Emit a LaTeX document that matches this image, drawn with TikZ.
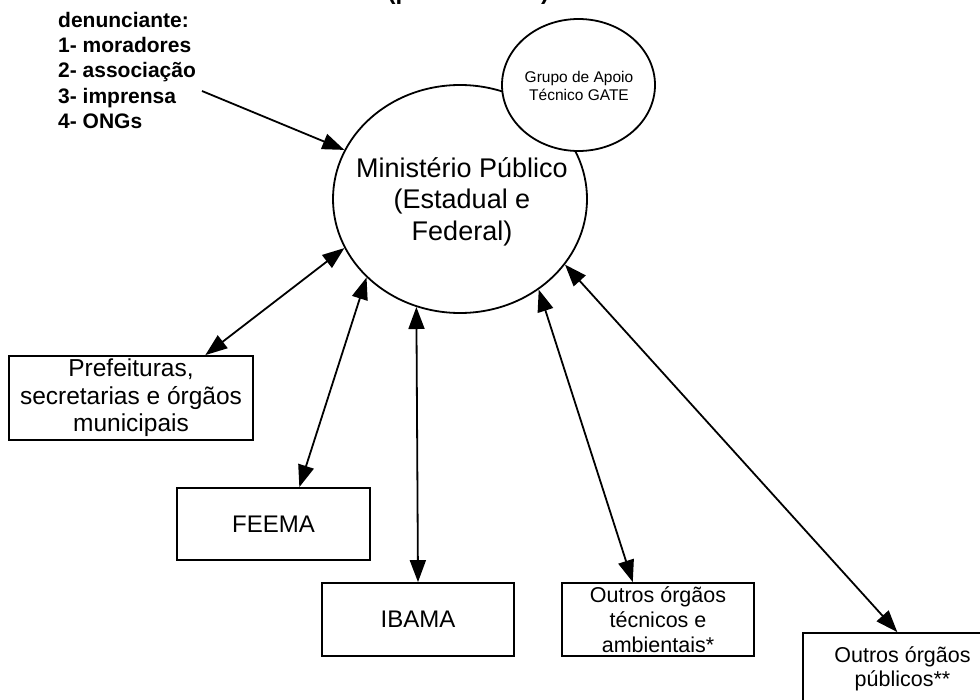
\documentclass[tikz,border=0pt]{standalone}
\usepackage{fontspec}
\setmainfont{Liberation Sans}
\usetikzlibrary{arrows.meta,shapes.geometric}
\tikzset{
  conn/.style={line width=1.8pt, -{Triangle[length=22pt,width=16pt]}},
  biconn/.style={line width=1.8pt, {Triangle[length=22pt,width=16pt]}-{Triangle[length=22pt,width=16pt]}},
  box/.style={draw, line width=1.8pt, rectangle, inner sep=0pt, align=center, fill=white},
  oval/.style={draw, ellipse, line width=1.8pt, inner sep=0pt, fill=white},
  plain/.style={inner sep=0pt, align=center}
}
\begin{document}
\begin{tikzpicture}[x=1pt,y=-1pt]
\useasboundingbox (0,0) rectangle (980,699);
\clip (0,0) rectangle (980,699);
\fill[white] (0,0) rectangle (980,699);

% title (cut off at the top, as in the reference)
\node[inner sep=0pt, anchor=base west, font=\bfseries\fontsize{24}{28}\selectfont] (titleL) at (387.5,-0.5) {(p};
\node[inner sep=0pt, anchor=base west, font=\bfseries\fontsize{24}{28}\selectfont] (titleR) at (541,-0.5) {)};

% denunciante list
\node[inner sep=0pt, align=left, anchor=north west, font=\bfseries\fontsize{21}{25.3}\selectfont] (denun) at (58,11.7)
  {denunciante:\\1- moradores\\2- associação\\3- imprensa\\4- ONGs};
\coordinate (dstart) at (202,91);

% central ellipse and GATE
\node[oval, minimum width=254pt, minimum height=228pt] (mp) at (460,199) {};
\node[plain, anchor=north, font=\fontsize{27}{31.5}\selectfont] (mptext) at (462,157)
  {Ministério Público\\(Estadual e\\Federal)};
\node[oval, minimum width=153pt, minimum height=132pt] (gate) at (578.5,85) {};
\node[plain, anchor=north, font=\fontsize{15.5}{18.3}\selectfont] (gatetext) at (579,70.6)
  {Grupo de Apoio\\Técnico GATE};

% boxes
\node[box, minimum width=244pt, minimum height=84pt, font=\fontsize{24.5}{27.5}\selectfont] (pref) at (131,398)
  {Prefeituras,\\secretarias e órgãos\\municipais};
\node[box, minimum width=193pt, minimum height=72pt, font=\fontsize{24}{28}\selectfont] (feema) at (273.5,524) {FEEMA};
\node[box, minimum width=192pt, minimum height=73pt, font=\fontsize{24}{28}\selectfont] (ibama) at (418,619.5) {IBAMA};
\node[box, minimum width=192pt, minimum height=73pt, font=\fontsize{21.5}{24.7}\selectfont] (tec) at (658,619.5)
  {Outros órgãos\\técnicos e\\ambientais*};
\node[box, minimum width=199pt, minimum height=72pt, font=\fontsize{21.5}{23.4}\selectfont] (pub) at (902.5,669)
  {Outros órgãos\\públicos**};

% connectors
\draw[conn] (dstart) -- (mp.157.3);
\draw[biconn] (pref.30.3) -- (mp.203.1);
\draw[biconn] (feema.55.8) -- (mp.220.3);
\draw[biconn] (ibama.north) -- (mp.248.7);
\draw[biconn] (tec.124.4) -- (mp.311.6);
\draw[biconn] (pub.98.7) -- (mp.328.6);
\end{tikzpicture}
\end{document}
